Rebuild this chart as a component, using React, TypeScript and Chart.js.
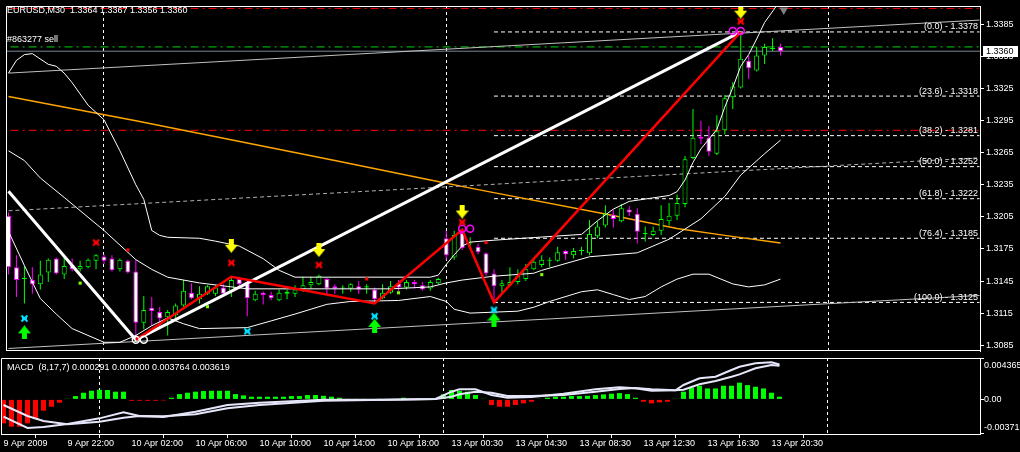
import React, { useEffect, useRef } from 'react';
import { Chart, registerables } from 'chart.js';

Chart.register(...registerables);

// ---------- texts ----------
const symbolLabel = 'EURUSD,M30';
const orderLabel = '#863277 sell';
const macdLabel = 'MACD  (8,17,7) 0.000291 0.000000 0.003764 0.003619';

// ---------- time axis ----------
const xTickIndex = [0, 8, 16, 24, 32, 40, 48, 56, 64, 72, 80, 88, 96];
const xTickLabels = ['9 Apr 2009', '9 Apr 22:00', '10 Apr 02:00', '10 Apr 06:00', '10 Apr 10:00', '10 Apr 14:00', '10 Apr 18:00', '13 Apr 00:30', '13 Apr 04:30', '13 Apr 08:30', '13 Apr 12:30', '13 Apr 16:30', '13 Apr 20:30'];
const daySeparators = [12, 55, 103];

// ---------- price axis ----------
const priceTicks = [1.3085, 1.3115, 1.3145, 1.3175, 1.3205, 1.3235, 1.3265, 1.3295, 1.3325, 1.3355, 1.3385];

// ---------- candles (M30) ----------
const opens = [
  1.3206, 1.3158, 1.3147, 1.3146, 1.3142, 1.3153, 1.3166, 1.3151, 1.3160, 1.3156,
  1.3158, 1.3164, 1.3168, 1.3166, 1.3156, 1.3164, 1.3154, 1.3106, 1.3120, 1.3116,
  1.3111, 1.3113, 1.3122, 1.3134, 1.3128, 1.3133, 1.3133, 1.3139, 1.3136, 1.3147,
  1.3144, 1.3127, 1.3134, 1.3132, 1.3127, 1.3133, 1.3133, 1.3137, 1.3141, 1.3142,
  1.3147, 1.3140, 1.3138, 1.3138, 1.3140, 1.3139, 1.3137, 1.3129, 1.3134, 1.3143,
  1.3139, 1.3144, 1.3141, 1.3138, 1.3143, 1.3185, 1.3167, 1.3190, 1.3180, 1.3177,
  1.3171, 1.3152, 1.3140, 1.3141, 1.3144, 1.3147, 1.3156, 1.3160, 1.3164, 1.3164,
  1.3173, 1.3169, 1.3173, 1.3171, 1.3187, 1.3197, 1.3207, 1.3201, 1.3212, 1.3208,
  1.3189, 1.3188, 1.3192, 1.3201, 1.3206, 1.3217, 1.3260, 1.3280, 1.3279, 1.3264,
  1.3286, 1.3317, 1.3326, 1.3351, 1.3342, 1.3356, 1.3362, 1.3364,
];
const highs = [
  1.3209, 1.3169, 1.3159, 1.3158, 1.3164, 1.3166, 1.3167, 1.3167, 1.3166, 1.3164,
  1.3166, 1.3170, 1.3170, 1.3169, 1.3166, 1.3165, 1.3165, 1.3131, 1.3130, 1.3121,
  1.3118, 1.3124, 1.3146, 1.3143, 1.3140, 1.3141, 1.3141, 1.3142, 1.3149, 1.3149,
  1.3146, 1.3136, 1.3135, 1.3135, 1.3137, 1.3137, 1.3141, 1.3149, 1.3149, 1.3151,
  1.3148, 1.3142, 1.3141, 1.3143, 1.3145, 1.3142, 1.3139, 1.3142, 1.3145, 1.3146,
  1.3146, 1.3146, 1.3144, 1.3146, 1.3148, 1.3192, 1.3192, 1.3193, 1.3186, 1.3180,
  1.3172, 1.3156, 1.3146, 1.3158, 1.3156, 1.3161, 1.3167, 1.3169, 1.3167, 1.3177,
  1.3174, 1.3176, 1.3177, 1.3202, 1.3201, 1.3216, 1.3212, 1.3217, 1.3215, 1.3213,
  1.3196, 1.3196, 1.3216, 1.3218, 1.3226, 1.3262, 1.3306, 1.3295, 1.3290, 1.3300,
  1.3319, 1.3331, 1.3378, 1.3356, 1.3364, 1.3367, 1.3372, 1.3367,
];
const lows = [
  1.3151, 1.3130, 1.3124, 1.3133, 1.3137, 1.3144, 1.3151, 1.3147, 1.3154, 1.3154,
  1.3157, 1.3156, 1.3161, 1.3154, 1.3154, 1.3152, 1.3090, 1.3100, 1.3103, 1.3101,
  1.3094, 1.3110, 1.3121, 1.3128, 1.3124, 1.3132, 1.3131, 1.3132, 1.3130, 1.3140,
  1.3112, 1.3126, 1.3123, 1.3127, 1.3126, 1.3128, 1.3130, 1.3135, 1.3138, 1.3141,
  1.3132, 1.3133, 1.3133, 1.3135, 1.3133, 1.3133, 1.3124, 1.3128, 1.3133, 1.3136,
  1.3137, 1.3138, 1.3136, 1.3136, 1.3142, 1.3165, 1.3165, 1.3174, 1.3177, 1.3170,
  1.3150, 1.3125, 1.3133, 1.3140, 1.3142, 1.3145, 1.3155, 1.3158, 1.3158, 1.3163,
  1.3165, 1.3166, 1.3169, 1.3169, 1.3185, 1.3195, 1.3195, 1.3200, 1.3206, 1.3180,
  1.3182, 1.3187, 1.3188, 1.3197, 1.3202, 1.3214, 1.3259, 1.3273, 1.3262, 1.3263,
  1.3282, 1.3306, 1.3325, 1.3334, 1.3341, 1.3348, 1.3360, 1.3356,
];
const closes = [
  1.3158, 1.3146, 1.3148, 1.3142, 1.3151, 1.3165, 1.3152, 1.3159, 1.3156, 1.3159,
  1.3165, 1.3169, 1.3164, 1.3155, 1.3165, 1.3153, 1.3106, 1.3118, 1.3117, 1.3110,
  1.3116, 1.3122, 1.3136, 1.3129, 1.3133, 1.3140, 1.3139, 1.3133, 1.3146, 1.3142,
  1.3129, 1.3133, 1.3132, 1.3129, 1.3134, 1.3135, 1.3137, 1.3141, 1.3144, 1.3150,
  1.3138, 1.3138, 1.3139, 1.3142, 1.3137, 1.3140, 1.3128, 1.3134, 1.3140, 1.3139,
  1.3144, 1.3142, 1.3137, 1.3144, 1.3147, 1.3169, 1.3188, 1.3176, 1.3181, 1.3172,
  1.3152, 1.3140, 1.3143, 1.3144, 1.3150, 1.3156, 1.3163, 1.3165, 1.3165, 1.3172,
  1.3170, 1.3173, 1.3174, 1.3189, 1.3196, 1.3208, 1.3203, 1.3213, 1.3209, 1.3191,
  1.3190, 1.3192, 1.3203, 1.3206, 1.3218, 1.3259, 1.3279, 1.3278, 1.3266, 1.3285,
  1.3316, 1.3327, 1.3353, 1.3344, 1.3356, 1.3364, 1.3363, 1.3360,
];

// ---------- Bollinger bands ----------
const upperBandIdx = [0, 1, 2, 3, 5, 6, 7, 8, 10, 12, 14, 16, 17, 18, 19, 20, 24, 26, 29, 32, 34, 36, 53, 54, 55, 56, 57, 58, 61, 72, 73, 74, 76, 78, 83, 84, 85, 86, 87, 89, 90, 91, 92, 93, 94, 95, 97];
const upperBandPrice = [1.33395, 1.33514, 1.33568, 1.33577, 1.33477, 1.33459, 1.33395, 1.33305, 1.33095, 1.32959, 1.32668, 1.3235, 1.32214, 1.31923, 1.31877, 1.31859, 1.3185, 1.31823, 1.31777, 1.31659, 1.3155, 1.31486, 1.31486, 1.31505, 1.31605, 1.31695, 1.31777, 1.31814, 1.31832, 1.31886, 1.3195, 1.32014, 1.32123, 1.32195, 1.3225, 1.32286, 1.32395, 1.32559, 1.32686, 1.32868, 1.33077, 1.33259, 1.33459, 1.33568, 1.33714, 1.33868, 1.34077];
const middleBandIdx = [0, 2, 4, 7, 12, 16, 18, 20, 24, 30, 48, 53, 55, 57, 61, 66, 67, 73, 79, 83, 87, 90, 92, 95, 97];
const middleBandPrice = [1.32668, 1.32577, 1.32414, 1.32232, 1.31923, 1.3165, 1.31559, 1.31486, 1.31432, 1.31377, 1.31377, 1.31395, 1.31432, 1.31459, 1.31495, 1.31523, 1.3155, 1.31677, 1.31714, 1.31841, 1.32032, 1.32241, 1.32441, 1.32641, 1.32768];
const lowerBandIdx = [0, 2, 4, 6, 8, 12, 14, 16, 18, 20, 22, 24, 30, 33, 36, 40, 43, 49, 53, 55, 56, 58, 64, 66, 68, 72, 74, 76, 78, 80, 82, 84, 86, 88, 91, 93, 95, 97];
const lowerBandPrice = [1.31914, 1.31595, 1.31286, 1.31141, 1.31005, 1.30877, 1.30877, 1.30941, 1.31032, 1.31105, 1.3105, 1.31005, 1.31014, 1.31077, 1.31141, 1.31232, 1.31259, 1.31268, 1.31305, 1.31259, 1.31186, 1.3115, 1.31168, 1.31205, 1.31259, 1.3135, 1.31368, 1.31323, 1.31277, 1.31305, 1.31395, 1.31468, 1.31514, 1.31514, 1.31423, 1.31395, 1.31414, 1.31468];

// ---------- slow moving average (orange) ----------
const slowMaIdx = [0, 16, 41, 53, 59, 75, 84, 90, 97];
const slowMaPrice = [1.33177, 1.3295, 1.32577, 1.32395, 1.32305, 1.32077, 1.31941, 1.31877, 1.31805];

// ---------- equidistant channel ----------
const channelIdx = [0, 122];
const channelTop = [1.33395, 1.33891];
const channelMid = [1.32107, 1.32603];
const channelBottom = [1.30819, 1.31315];

// ---------- zigzags ----------
const bigZigIdx = [0, 16, 92];
const bigZigPrice = [1.3229, 1.3090, 1.3378];
const redZigIdx = [16, 28, 46, 57, 61, 92];
const redZigPrice = [1.3090, 1.3149, 1.3124, 1.3193, 1.3125, 1.3378];

// ---------- Fibonacci retracement ----------
const fibIdx = [61, 122];
const fibRatios = ['0.0', '23.6', '38.2', '50.0', '61.8', '76.4', '100.0'];
const fibPrices = [1.3378, 1.3318, 1.3281, 1.3252, 1.3222, 1.3185, 1.3125];

// ---------- order lines ----------
const hLineIdx = [-2, 124];
const sellOrderPrice = 1.3364;
const stopLossPrice = 1.3400;
const takeProfitPrice = 1.3286;

// ---------- signal markers ----------
const yellowArrowIdx = [28, 39, 57, 92];
const yellowArrowPrice = [1.3178, 1.3174, 1.3210, 1.3397];
const greenArrowIdx = [2, 46, 61];
const greenArrowPrice = [1.3097, 1.3103, 1.3109];
const cyanMarkIdx = [2, 30, 46, 61];
const cyanMarkPrice = [1.3110, 1.3098, 1.3112, 1.3118];
const redMarkIdx = [11, 28, 39, 57, 92];
const redMarkPrice = [1.3181, 1.3162, 1.3160, 1.3200, 1.3388];
const redDotIdx = [15, 45, 60];
const redDotPrice = [1.3174, 1.3147, 1.3181];
const greenDotIdx = [9, 25, 49, 67];
const greenDotPrice = [1.3143, 1.3121, 1.3134, 1.3151];
const magentaRingIdx = [57, 58, 91, 92];
const magentaRingPrice = [1.3194, 1.3194, 1.3379, 1.3379];
const whiteRingIdx = [16, 17];
const whiteRingPrice = [1.3090, 1.3090];
const shiftMarkIdx = [97.4];
const shiftMarkPrice = [1.33986];

// ---------- MACD (8,17,7) ----------
const macdHist = [
  -0.00258, -0.00294, -0.00294, -0.00258, -0.00205, -0.00122, -0.00079, -0.00036, 0.00007, 0.00036,
  0.00072, 0.00093, 0.00104, 0.00101, 0.00083, 0.00083, -0.00014, -0.00014, -0.00014, -0.00014,
  -0.00011, 0.00018, 0.00057, 0.00072, 0.00083, 0.00090, 0.00093, 0.00093, 0.00093, 0.00057,
  0.00043, 0.00029, 0.00029, 0.00029, 0.00029, 0.00029, 0.00036, 0.00036, 0.00047, 0.00047,
  0.00039, 0.00029, 0.00018, 0.00004, 0.00004, 0.00004, -0.00007, 0.00001, 0.00001, 0.00001,
  0.00018, 0.00004, 0.00004, 0.00004, 0.00004, 0.00054, 0.00101, 0.00093, 0.00083, 0.00047,
  0.00007, -0.00061, -0.00079, -0.00079, -0.00061, -0.00043, -0.00025, 0.00007, 0.00018, 0.00029,
  0.00029, 0.00036, 0.00036, 0.00039, 0.00047, 0.00054, 0.00061, 0.00068, 0.00057, 0.00018,
  -0.00025, -0.00043, -0.00032, -0.00025, 0.00007, 0.00083, 0.00129, 0.00147, 0.00118, 0.00118,
  0.00147, 0.00147, 0.00180, 0.00154, 0.00136, 0.00118, 0.00072, 0.000291,
];
const macdLineIdx = [0, 3, 5, 8, 12, 15, 17, 20, 24, 28, 32, 40, 48, 54, 56, 57, 59, 61, 63, 66, 70, 74, 77, 79, 81, 84, 85, 87, 89, 91, 92, 94, 96, 97];
const macdMain = [-0.00186, -0.00308, -0.00297, -0.00265, -0.00204, -0.00139, -0.00179, -0.00190, -0.00132, -0.00060, -0.00036, -0.00003, -0.00003, 0.00004, 0.00083, 0.00109, 0.00109, 0.00047, 0.00018, 0.00026, 0.00061, 0.00109, 0.00130, 0.00119, 0.00094, 0.00098, 0.00155, 0.00227, 0.00244, 0.00317, 0.00352, 0.00389, 0.00400, 0.003764];
const macdSignal = [-0.00060, -0.00179, -0.00233, -0.00268, -0.00240, -0.00197, -0.00179, -0.00182, -0.00160, -0.00096, -0.00060, -0.00014, -0.00003, 0.00004, 0.00029, 0.00055, 0.00083, 0.00072, 0.00037, 0.00037, 0.00047, 0.00083, 0.00112, 0.00123, 0.00109, 0.00098, 0.00104, 0.00163, 0.00198, 0.00244, 0.00270, 0.00335, 0.00370, 0.003619];
const macdAxisValues = [0.004365, 0, -0.00371];
const macdAxisLabels = ['0.004365', '0.00', '-0.00371'];

// ---------- view ranges ----------
const X_MIN = -0.3125;
const X_MAX = 122.0625;
const P_MIN = 1.3079545;
const P_MAX = 1.3402273;
const M_MIN = -0.003726;
const M_MAX = 0.004459;

const GREEN = '#00ff00';
const MAGENTA = '#ff00ff';
const RED = '#ff0000';
const WHITE = '#ffffff';

function xy(idx: number[], vals: number[]) {
  return idx.map((x, k) => ({ x, y: vals[k] }));
}

function detectFont() {
  const ctx = document.createElement('canvas').getContext('2d') as CanvasRenderingContext2D;
  const s = 'EURUSD,M30 1.3385';
  ctx.font = '11px monospace';
  const base = ctx.measureText(s).width;
  ctx.font = '11px "Liberation Sans Narrow", monospace';
  const narrow = ctx.measureText(s).width;
  if (Math.abs(narrow - base) > 0.5) return { family: '"Liberation Sans Narrow"', size: 11 };
  return { family: '"Liberation Sans"', size: 9 };
}

function arrowCanvas(color: string, down: boolean) {
  const c = document.createElement('canvas');
  c.width = 13;
  c.height = 14;
  const g = c.getContext('2d') as CanvasRenderingContext2D;
  g.fillStyle = color;
  g.beginPath();
  if (down) {
    g.rect(4, 0, 5, 7);
    g.moveTo(0, 6);
    g.lineTo(13, 6);
    g.lineTo(6.5, 14);
    g.closePath();
  } else {
    g.rect(4, 7, 5, 7);
    g.moveTo(6.5, 0);
    g.lineTo(13, 8);
    g.lineTo(0, 8);
    g.closePath();
  }
  g.fill();
  return c;
}

function crossCanvas(color: string) {
  const c = document.createElement('canvas');
  c.width = 9;
  c.height = 9;
  const g = c.getContext('2d') as CanvasRenderingContext2D;
  g.strokeStyle = color;
  g.lineWidth = 2;
  g.beginPath();
  g.moveTo(1.5, 1.5);
  g.lineTo(7.5, 7.5);
  g.moveTo(7.5, 1.5);
  g.lineTo(1.5, 7.5);
  g.moveTo(2, 4.5);
  g.lineTo(7, 4.5);
  g.stroke();
  return c;
}

function lineDs(data: any[], color: string, width: number, order: number, dash: number[] = []) {
  return {
    type: 'line',
    data,
    borderColor: color,
    borderWidth: width,
    borderDash: dash,
    pointRadius: 0,
    tension: 0,
    fill: false,
    order,
  };
}

function markerDs(data: any[], style: any, order = 1) {
  return {
    type: 'line',
    data,
    showLine: false,
    pointStyle: style,
    pointRadius: 6,
    pointBorderWidth: 0,
    order,
  };
}

export default function App() {
  const mainRef = useRef<HTMLCanvasElement>(null);
  const macdRef = useRef<HTMLCanvasElement>(null);

  useEffect(() => {
    const font = detectFont();
    const fontStr = `${font.size}px ${font.family}`;
    const candleIdx = opens.map((_, i) => i);
    const isUp = (i: number) => closes[i] >= opens[i];
    const last = opens.length - 1;
    const lastClose = closes[last];

    const separatorPlugin = {
      id: 'separators',
      beforeDatasetsDraw(chart: any) {
        const { ctx, chartArea: a, scales } = chart;
        ctx.save();
        ctx.strokeStyle = WHITE;
        ctx.lineWidth = 1;
        ctx.setLineDash([3, 3]);
        daySeparators.forEach((i) => {
          const px = Math.floor(scales.x.getPixelForValue(i)) + 0.5;
          if (px < a.left || px > a.right) return;
          ctx.beginPath();
          ctx.moveTo(px, a.top);
          ctx.lineTo(px, a.bottom);
          ctx.stroke();
        });
        ctx.restore();
      },
    };

    const mainDecor = {
      id: 'mainDecor',
      afterDraw(chart: any) {
        const { ctx, chartArea: a, scales } = chart;
        const y = scales.y;
        ctx.save();
        ctx.strokeStyle = WHITE;
        ctx.lineWidth = 1;
        ctx.setLineDash([]);
        ctx.beginPath();
        ctx.moveTo(a.left + 0.5, a.bottom);
        ctx.lineTo(a.left + 0.5, a.top + 0.5);
        ctx.lineTo(a.right, a.top + 0.5);
        ctx.moveTo(a.left, a.bottom - 0.5);
        ctx.lineTo(a.right, a.bottom - 0.5);
        ctx.stroke();

        ctx.font = fontStr;
        ctx.fillStyle = WHITE;
        ctx.textAlign = 'left';
        ctx.textBaseline = 'middle';
        const ohlc = [opens[last], highs[last], lows[last], closes[last]].map((v) => v.toFixed(4)).join(' ');
        ctx.fillText(`${symbolLabel}  ${ohlc}`, 7, 10.5);
        ctx.fillText(orderLabel, 7, y.getPixelForValue(sellOrderPrice) - 7.5);

        ctx.textAlign = 'right';
        ctx.textBaseline = 'bottom';
        fibPrices.forEach((p, k) => {
          ctx.fillText(`(${fibRatios[k]}) - ${p.toFixed(4)}`, a.right - 2, y.getPixelForValue(p) - 0.5);
        });

        const by = Math.round(y.getPixelForValue(lastClose));
        ctx.fillStyle = WHITE;
        ctx.fillRect(a.right + 3, by - 5, 35, 11);
        ctx.fillStyle = '#000000';
        ctx.textAlign = 'left';
        ctx.textBaseline = 'middle';
        ctx.fillText(lastClose.toFixed(4), a.right + 6, by + 0.5);
        ctx.restore();
      },
    };

    const macdDecor = {
      id: 'macdDecor',
      afterDraw(chart: any) {
        const { ctx, chartArea: a, scales } = chart;
        const y = scales.y;
        ctx.save();
        ctx.strokeStyle = WHITE;
        ctx.lineWidth = 1;
        ctx.setLineDash([]);
        ctx.beginPath();
        ctx.moveTo(a.left + 0.5, a.bottom);
        ctx.lineTo(a.left + 0.5, a.top + 0.5);
        ctx.lineTo(a.right, a.top + 0.5);
        ctx.stroke();
        ctx.font = fontStr;
        ctx.fillStyle = WHITE;
        ctx.textAlign = 'left';
        ctx.textBaseline = 'middle';
        ctx.fillText(macdLabel, 7, a.top + 10);
        macdAxisValues.forEach((v, k) => {
          let py = y.getPixelForValue(v);
          if (k === 0) py += 7;
          if (k === macdAxisValues.length - 1) py -= 6.5;
          ctx.fillText(macdAxisLabels[k], a.right + 4, py);
        });
        ctx.restore();
      },
    };

    const yellowArrow = arrowCanvas('#ffff00', true);
    const greenArrow = arrowCanvas(GREEN, false);
    const cyanCross = crossCanvas('#00e0ff');
    const redCross = crossCanvas(RED);

    const hLine = (p: number) => hLineIdx.map((x) => ({ x, y: p }));

    const mainDatasets: any[] = [
      lineDs(xy(channelIdx, channelTop), '#c0c0c0', 1, 10),
      lineDs(xy(channelIdx, channelMid), '#b0b0b0', 1, 10, [4, 3]),
      lineDs(xy(channelIdx, channelBottom), '#c0c0c0', 1, 10),
      lineDs(xy(slowMaIdx, slowMaPrice), '#ffa500', 1.5, 10),
      lineDs(hLine(stopLossPrice), RED, 1, 10, [8, 4, 2, 4]),
      lineDs(hLine(takeProfitPrice), RED, 1, 10, [8, 4, 2, 4]),
      lineDs(hLine(sellOrderPrice), '#00d000', 1, 10, [8, 4, 2, 4]),
      lineDs(hLine(closes[closes.length - 1]), '#778899', 1, 10),
      ...fibPrices.map((p) => lineDs(fibIdx.map((x) => ({ x, y: p })), WHITE, 1, 10, [4, 3])),
      {
        type: 'bar',
        data: candleIdx.map((i) => ({ x: i, y: [lows[i], highs[i]] })),
        backgroundColor: candleIdx.map((i) => (isUp(i) ? GREEN : MAGENTA)),
        borderWidth: 0,
        barThickness: 1,
        grouped: false,
        inflateAmount: 0,
        order: 9,
      },
      {
        type: 'bar',
        data: candleIdx.map((i) => ({ x: i, y: [opens[i], closes[i]] })),
        backgroundColor: candleIdx.map((i) => (isUp(i) ? '#000000' : WHITE)),
        borderColor: candleIdx.map((i) => (isUp(i) ? GREEN : MAGENTA)),
        borderWidth: 1,
        borderSkipped: false,
        barThickness: 5,
        minBarLength: 1,
        grouped: false,
        inflateAmount: 0,
        order: 8,
      },
      lineDs(xy(upperBandIdx, upperBandPrice), WHITE, 1, 7),
      lineDs(xy(middleBandIdx, middleBandPrice), WHITE, 1, 7),
      lineDs(xy(lowerBandIdx, lowerBandPrice), WHITE, 1, 7),
      lineDs(xy(bigZigIdx, bigZigPrice), WHITE, 3, 5),
      lineDs(xy(redZigIdx, redZigPrice), RED, 2.5, 4),
      markerDs(xy(yellowArrowIdx, yellowArrowPrice), yellowArrow),
      markerDs(xy(greenArrowIdx, greenArrowPrice), greenArrow),
      markerDs(xy(cyanMarkIdx, cyanMarkPrice), cyanCross),
      markerDs(xy(redMarkIdx, redMarkPrice), redCross),
      {
        type: 'line', data: xy(redDotIdx, redDotPrice), showLine: false, pointStyle: 'rect',
        pointRadius: 2.2, pointBorderWidth: 0, pointBackgroundColor: RED, order: 1,
      },
      {
        type: 'line', data: xy(greenDotIdx, greenDotPrice), showLine: false, pointStyle: 'rect',
        pointRadius: 2.2, pointBorderWidth: 0, pointBackgroundColor: '#7cfc00', order: 1,
      },
      {
        type: 'line', data: xy(magentaRingIdx, magentaRingPrice), showLine: false, pointStyle: 'circle',
        pointRadius: 3.5, pointBorderWidth: 1.5, pointBorderColor: MAGENTA, pointBackgroundColor: 'rgba(0,0,0,0)', order: 1,
      },
      {
        type: 'line', data: xy(whiteRingIdx, whiteRingPrice), showLine: false, pointStyle: 'circle',
        pointRadius: 3.5, pointBorderWidth: 1.5, pointBorderColor: WHITE, pointBackgroundColor: 'rgba(0,0,0,0)', order: 1,
      },
      {
        type: 'line', data: xy(shiftMarkIdx, shiftMarkPrice), showLine: false, pointStyle: 'triangle',
        pointRotation: 180, pointRadius: 5, pointBorderWidth: 0, pointBackgroundColor: '#808080', order: 1,
      },
    ];

    const commonOptions = {
      responsive: false,
      animation: false as const,
      devicePixelRatio: 1,
      events: [] as any[],
      plugins: { legend: { display: false }, tooltip: { enabled: false } },
    };

    const main = new Chart(mainRef.current as HTMLCanvasElement, {
      type: 'bar',
      data: { datasets: mainDatasets },
      options: {
        ...commonOptions,
        layout: { padding: { left: 1, top: 1, right: 0, bottom: 1 } },
        scales: {
          x: { type: 'linear', min: X_MIN, max: X_MAX, display: false, offset: false, bounds: 'data' },
          y: {
            type: 'linear',
            position: 'right',
            min: P_MIN,
            max: P_MAX,
            bounds: 'data',
            beginAtZero: false,
            afterBuildTicks: (s: any) => {
              s.ticks = priceTicks.map((v) => ({ value: v }));
            },
            afterFit: (s: any) => {
              s.width = 40;
              s.paddingTop = 0;
              s.paddingBottom = 0;
            },
            ticks: {
              color: WHITE,
              font,
              padding: 2,
              autoSkip: false,
              callback: (v: any) => Number(v).toFixed(4),
            },
            grid: { drawOnChartArea: false, drawTicks: true, tickLength: 4, color: WHITE },
            border: { display: true, color: WHITE, width: 1 },
          },
        },
      } as any,
      plugins: [separatorPlugin, mainDecor],
    } as any);

    const macd = new Chart(macdRef.current as HTMLCanvasElement, {
      type: 'bar',
      data: {
        datasets: [
          lineDs(xy(macdLineIdx, macdMain), '#e6e6fa', 2, 1),
          lineDs(xy(macdLineIdx, macdSignal), '#e6e6fa', 2, 1),
          {
            type: 'bar',
            data: macdHist.map((v, i) => ({ x: i, y: v })),
            backgroundColor: macdHist.map((v) => (v >= 0 ? GREEN : RED)),
            borderWidth: 0,
            barThickness: 5,
            grouped: false,
            inflateAmount: 0,
            order: 2,
          },
        ],
      },
      options: {
        ...commonOptions,
        layout: { padding: { left: 1, top: 1, right: 0, bottom: 0 } },
        scales: {
          x: {
            type: 'linear',
            min: X_MIN,
            max: X_MAX,
            offset: false,
            bounds: 'data',
            position: 'bottom',
            afterBuildTicks: (s: any) => {
              s.ticks = xTickIndex.map((v) => ({ value: v }));
            },
            afterFit: (s: any) => {
              s.height = 18;
              s.paddingLeft = 0;
              s.paddingRight = 0;
            },
            ticks: {
              color: WHITE,
              font,
              padding: 0,
              align: 'start',
              autoSkip: false,
              maxRotation: 0,
              minRotation: 0,
              callback: (v: any) => {
                const k = xTickIndex.indexOf(Number(v));
                return k >= 0 ? xTickLabels[k] : '';
              },
            },
            grid: { drawOnChartArea: false, drawTicks: true, tickLength: 4, color: WHITE },
            border: { display: true, color: WHITE, width: 1 },
          },
          y: {
            type: 'linear',
            position: 'right',
            min: M_MIN,
            max: M_MAX,
            bounds: 'data',
            beginAtZero: false,
            afterBuildTicks: (s: any) => {
              s.ticks = macdAxisValues.map((v) => ({ value: v }));
            },
            afterFit: (s: any) => {
              s.width = 40;
              s.paddingTop = 0;
              s.paddingBottom = 0;
            },
            ticks: { display: false },
            grid: { drawOnChartArea: false, drawTicks: true, tickLength: 4, color: WHITE },
            border: { display: true, color: WHITE, width: 1 },
          },
        },
      } as any,
      plugins: [separatorPlugin, macdDecor],
    } as any);

    return () => {
      main.destroy();
      macd.destroy();
    };
  }, []);

  return (
    <div style={{ position: 'fixed', left: 0, top: 0, width: 1020, height: 452, background: '#000000', overflow: 'hidden' }}>
      <canvas ref={mainRef} width={1020} height={357} style={{ position: 'absolute', left: 0, top: 0 }} />
      <canvas ref={macdRef} width={1020} height={95} style={{ position: 'absolute', left: 0, top: 357 }} />
    </div>
  );
}
